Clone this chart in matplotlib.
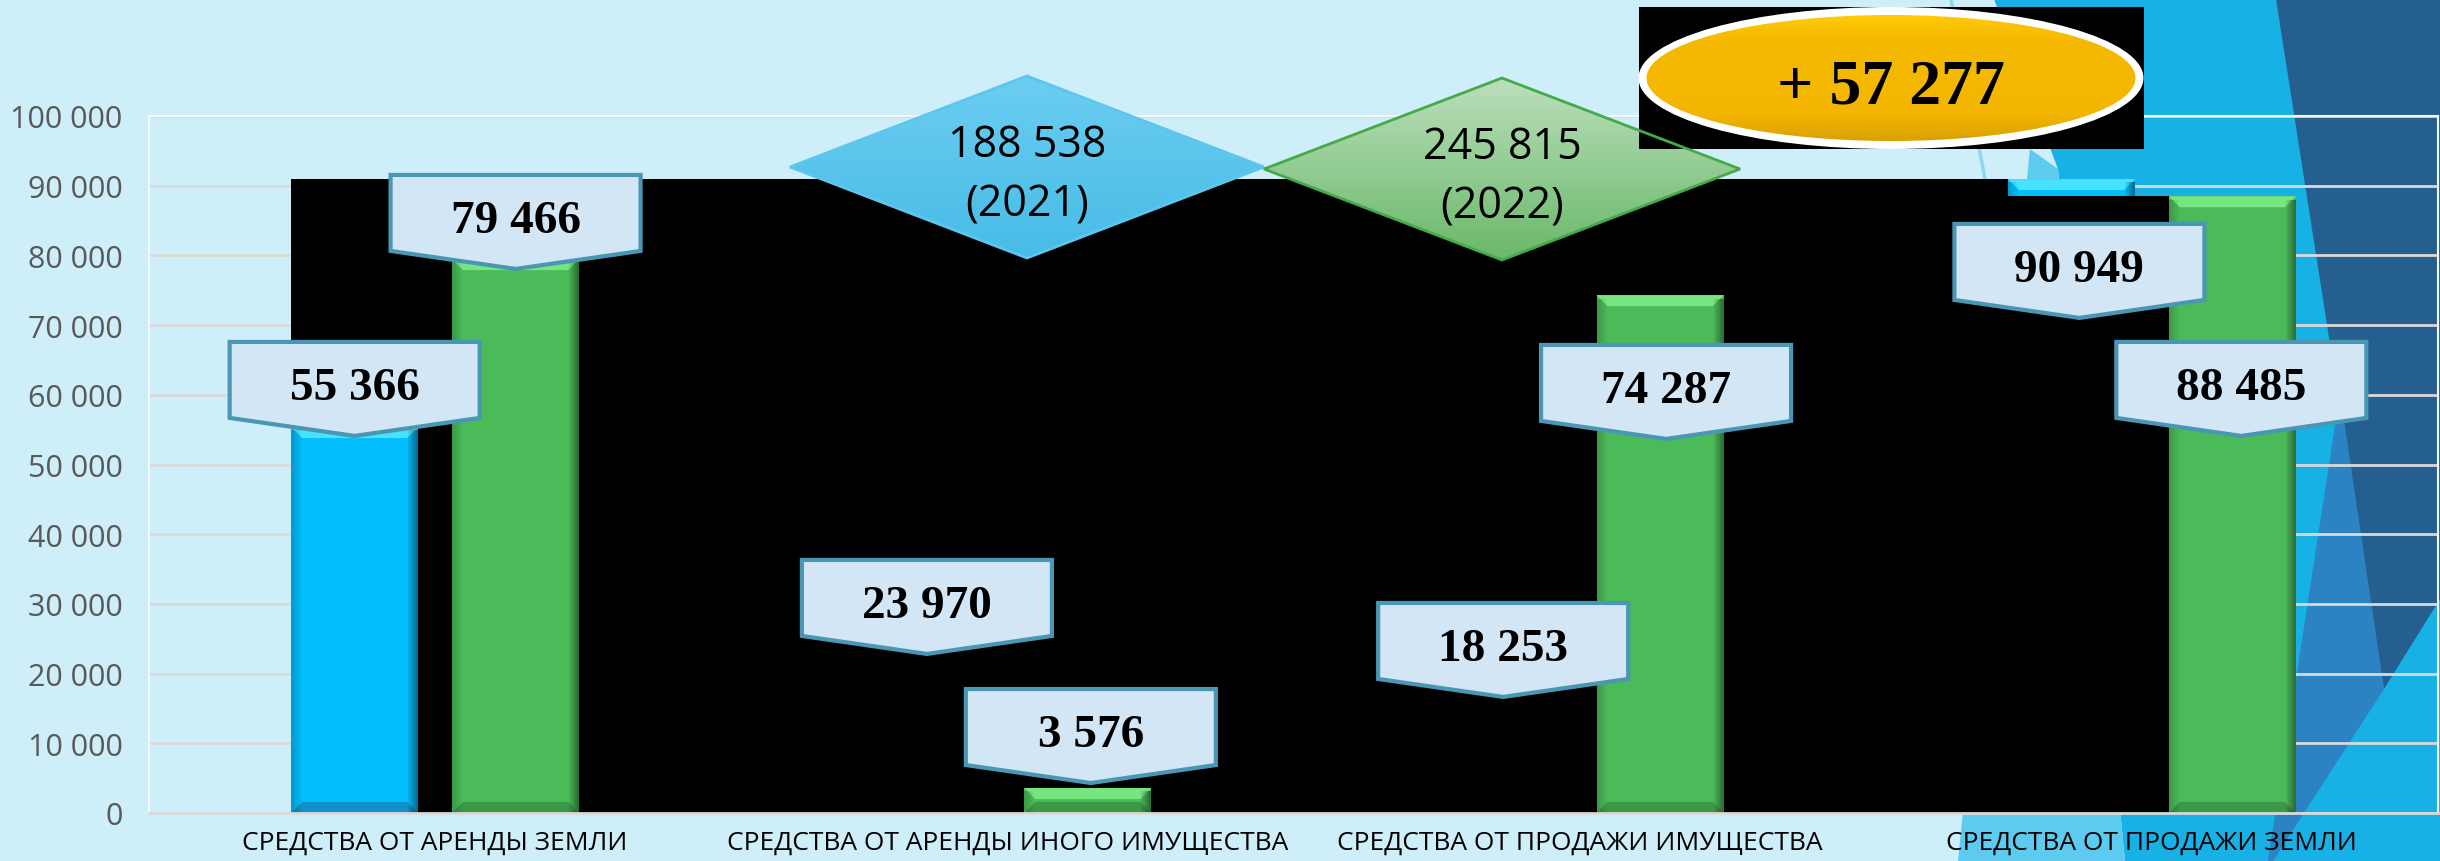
import matplotlib
matplotlib.use('Agg')
import matplotlib.pyplot as plt
import numpy as np
from matplotlib import font_manager
from matplotlib.patches import Polygon, Rectangle, Ellipse
from matplotlib.colors import LinearSegmentedColormap
from matplotlib.ticker import FuncFormatter

# data
categories = ['СРЕДСТВА ОТ АРЕНДЫ ЗЕМЛИ', 'СРЕДСТВА ОТ АРЕНДЫ ИНОГО ИМУЩЕСТВА',
              'СРЕДСТВА ОТ ПРОДАЖИ ИМУЩЕСТВА', 'СРЕДСТВА ОТ ПРОДАЖИ ЗЕМЛИ']
values_2021 = [55366, 23970, 18253, 90949]
values_2022 = [79466, 3576, 74287, 88485]
total_2021 = 188538
total_2022 = 245815
yticks = list(range(0, 100001, 10000))

# where the callout tips sit (placed by hand in the original)
tips_2021 = [54100, 22820, 16650, 71030]
tips_2022 = [78060, 4300, 53670, 54100]
shift_2021 = [0, 0, 4, 8]
shift_2022 = [0, 3, 6, 9]

installed = {f.name for f in font_manager.fontManager.ttflist}
narrow = next(f for f in ['Liberation Sans Narrow', 'Open Sans', 'DejaVu Sans'] if f in installed)
serif = 'Liberation Serif'

W, H = 2440, 862
BG = '#CEEEF9'
fig = plt.figure(figsize=(W / 100, H / 100), dpi=100)
fig.patch.set_facecolor(BG)


def fmt(v):
    return f'{int(v):,}'.replace(',', ' ')


# background decoration (pixel coords, y down)
bg = fig.add_axes([0, 0, 1, 1], zorder=0)
bg.axis('off')
bg.set_autoscale_on(False)
bg.set_xlim(0, W)
bg.set_ylim(H, 0)
shapes = [
    ([(1994, 0), (2440, 0), (2440, 862), (2125, 862), (2058, 170)], '#17B1E5'),
    ([(2030, 150), (2058, 170), (2125, 862), (1958, 862)], '#5DCBEF'),
    ([(2276, 0), (2440, 0), (2440, 600), (2384, 690)], '#255F8F'),
    ([(2340, 394), (2384, 690), (2273, 862), (2268, 862)], '#2C83C3'),
]
for pts, col in shapes:
    bg.add_patch(Polygon(pts, closed=True, fc=col, ec='none'))
bg.plot([1951, 1985], [0, 180], color='#8DD7F1', lw=2.5)

# main chart
x0, x1 = 149, 2438
ytop, ybot = 117, 814
ax = fig.add_axes([x0 / W, (H - ybot) / H, (x1 - x0) / W, (ybot - ytop) / H], zorder=1)
ax.patch.set_visible(False)
ax.set_xlim(-0.5, 3.5)
ax.set_ylim(0, 100000)
ux = 4.0 / (x1 - x0)            # data units per pixel, x
uy = 100000.0 / (ybot - ytop)   # data units per pixel, y

ax.set_yticks(yticks)
ax.yaxis.set_major_formatter(FuncFormatter(lambda v, p: fmt(v)))
ax.set_axisbelow(True)
ax.yaxis.grid(True, color='#D9D9D9', lw=2)
for s in ['top', 'right', 'left']:
    ax.spines[s].set_color('#F4F8FA')
    ax.spines[s].set_linewidth(1.5)
ax.spines['bottom'].set_color('#D9D9D9')
ax.spines['bottom'].set_linewidth(2)
ax.tick_params(axis='y', length=0, pad=19, labelsize=22, labelcolor='#595959')
ax.tick_params(axis='x', length=0, pad=12, labelsize=19, labelcolor='black')
for lab in ax.get_yticklabels():
    lab.set_family(narrow)
ax.set_xticks(range(len(categories)))
ax.set_xticklabels(categories, family=narrow)

x = np.arange(len(categories))
bw = 0.222
off = 0.1406
bars21 = ax.bar(x - off, values_2021, bw, color='#03BDFD', zorder=1)
bars22 = ax.bar(x + off, values_2022, bw, color='#4BBB5A', zorder=2)
bars21[0].set_zorder(2)


def bevel(p, light, dark):
    z = p.get_zorder() + 0.01
    l, w, h = p.get_x(), p.get_width(), p.get_height()
    dx, dy = 11 * ux, 11 * uy
    ax.add_patch(Polygon([(l, h), (l + w, h), (l + w - dx, h - dy), (l + dx, h - dy)],
                         fc=light, ec='none', zorder=z))
    ax.add_patch(Polygon([(l, 0), (l + w, 0), (l + w - dx, dy), (l + dx, dy)],
                         fc=dark, ec='none', alpha=0.7, zorder=z))
    for i in range(5):
        a = 0.10 * (5 - i)
        ax.add_patch(Rectangle((l + w - (i + 1) * 2 * ux, 0), 2 * ux, h - dy * 0.3,
                               fc='black', alpha=a * 0.8, ec='none', zorder=z))
        ax.add_patch(Rectangle((l + i * 2 * ux, 0), 2 * ux, h - dy * 0.3,
                               fc='black', alpha=a * 0.35, ec='none', zorder=z))


for p in bars21:
    bevel(p, '#45E3FF', '#1580B0')
for p in bars22:
    bevel(p, '#76E680', '#358A3E')

# black block behind the bars, as in the source picture
left = bars21[0].get_x()
b3 = bars21[3].get_x()
g3 = bars22[3].get_x()
ax.add_patch(Polygon([(left, 0), (left, max(values_2021)), (b3, max(values_2021)),
                      (b3, values_2022[3]), (g3, values_2022[3]), (g3, 0)],
                     fc='black', ec='none', zorder=1.5))


def callout(xc, tip, text):
    pts = [(-125, 94), (125, 94), (125, 18), (0, 0), (-125, 18)]
    ax.add_patch(Polygon([(xc + px * ux, tip + py * uy) for px, py in pts], closed=True,
                         fc='#D3E6F5', ec='#4A97B3', lw=3, joinstyle='miter', zorder=5))
    ax.text(xc, tip + 37 * uy, text, ha='center', va='baseline', fontsize=34,
            fontweight='bold', family=serif, color='black', zorder=6)


for i in range(len(categories)):
    callout(x[i] - off + shift_2021[i] * ux, tips_2021[i], fmt(values_2021[i]))
    callout(x[i] + off + shift_2022[i] * ux, tips_2022[i], fmt(values_2022[i]))

# overlay: totals and growth
ov = fig.add_axes([0, 0, 1, 1], zorder=2)
ov.axis('off')
ov.patch.set_visible(False)
ov.set_autoscale_on(False)
ov.set_xlim(0, W)
ov.set_ylim(H, 0)


def grad_patch(patch, colors, ext, z):
    ov.add_patch(patch)
    cmap = LinearSegmentedColormap.from_list('g', colors)
    im = ov.imshow(np.linspace(0, 1, 256)[:, None], extent=ext, cmap=cmap,
                   aspect='auto', zorder=z, interpolation='bilinear')
    im.set_clip_path(patch)


def diamond(cx, cy, hw, hh, colors, ec, year, total):
    pts = [(cx - hw, cy), (cx, cy - hh), (cx + hw, cy), (cx, cy + hh)]
    grad_patch(Polygon(pts, closed=True, fc='none', ec='none'), colors,
               (cx - hw, cx + hw, cy + hh, cy - hh), 3)
    ov.add_patch(Polygon(pts, closed=True, fc='none', ec=ec, lw=2, zorder=4))
    ov.text(cx, cy - 11, fmt(total), ha='center', va='baseline', fontsize=31,
            family=narrow, color='black', zorder=5)
    ov.text(cx, cy + 49, f'({year})', ha='center', va='baseline', fontsize=31,
            family=narrow, color='black', zorder=5)


diamond(1027, 168, 237, 91, ['#6CCDF1', '#47BCE6'], '#5CC6EE', 2021, total_2021)
diamond(1502, 170, 238, 91, ['#BCDFBC', '#69B869'], '#45AA4A', 2022, total_2022)

# growth badge
ov.add_patch(Rectangle((1639, 8), 505, 142, fc='black', ec='none', zorder=3))
ov.add_patch(Ellipse((1891, 79), 505, 142, fc='white', ec='none', zorder=3.1))
grad_patch(Ellipse((1891, 79), 489, 126, fc='none', ec='none'),
           ['#FFCA08', '#F6B900', '#F5B800', '#F5B800', '#F3B500', '#D9A000'],
           (1646, 2136, 142, 16), 3.2)
ov.text(1891, 103, '+ ' + fmt(total_2022 - total_2021), ha='center', va='baseline',
        fontsize=46, fontweight='bold', family=serif, color='black', zorder=5)

fig.savefig('out.png', dpi=100, facecolor=BG)
